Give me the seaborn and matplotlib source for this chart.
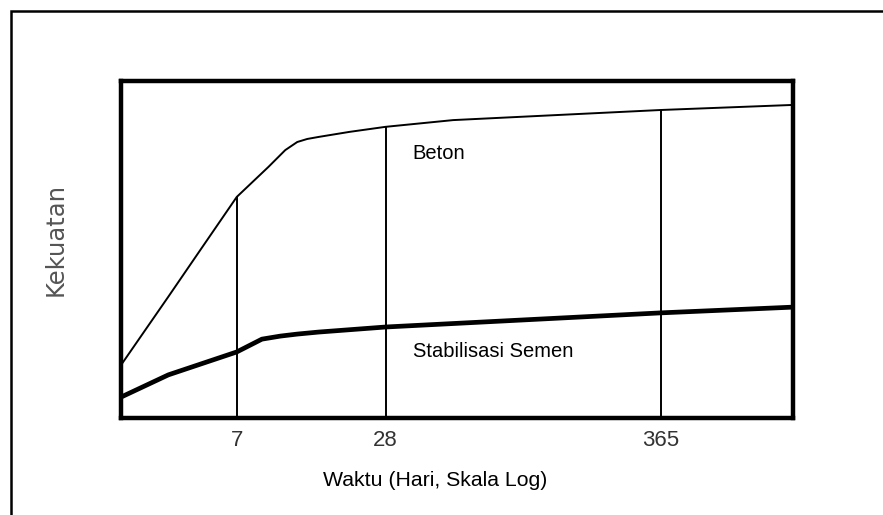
import matplotlib
matplotlib.use("Agg")
import matplotlib.pyplot as plt
from matplotlib.patches import Rectangle
import seaborn as sns
import pandas as pd

# ---- data ----
beton_days = [2.38, 3.7, 5.0, 7.0, 9.4, 11.0, 12.3, 13.5, 15.0, 20.0, 28.0, 52.6, 365.0, 1248.0]
beton_vals = [15.7, 36.0, 50.0, 65.6, 74.5, 79.5, 81.9, 82.8, 83.4, 84.9, 86.4, 88.4, 91.4, 92.9]

semen_days = [2.38, 3.7, 7.0, 8.85, 10.5, 12.3, 15.0, 28.0, 365.0, 1248.0]
semen_vals = [6.2, 12.8, 19.6, 23.4, 24.3, 24.9, 25.5, 27.0, 31.2, 32.9]

tick_days = [7, 28, 365]
tick_labels = ["7", "28", "365"]

label_beton = "Beton"
label_semen = "Stabilisasi Semen"
xlabel = "Waktu (Hari, Skala Log)"
ylabel = "Kekuatan"

sns.set_style("white")
plt.rcParams["font.family"] = ["Liberation Sans", "DejaVu Sans"]

fig = plt.figure(figsize=(8.83, 5.15), dpi=100)
ax = fig.add_axes([121 / 883, 1 - 418 / 515, (793 - 121) / 883, (418 - 81) / 515])

df_b = pd.DataFrame({"x": beton_days, "y": beton_vals})
df_s = pd.DataFrame({"x": semen_days, "y": semen_vals})
sns.lineplot(data=df_b, x="x", y="y", ax=ax, color="black", lw=1.4, sort=True)
sns.lineplot(data=df_s, x="x", y="y", ax=ax, color="black", lw=3.4, sort=True)

ax.set_xscale("log")
ax.set_xlim(2.38, 1248)
ax.set_ylim(0, 100)

# vertical lines from the bottom up to the Beton curve
heights = [beton_vals[beton_days.index(float(d))] for d in tick_days]
ax.vlines(tick_days, 0, heights, color="black", lw=1.4)

ax.set_xticks(tick_days)
ax.set_xticklabels(tick_labels)
ax.xaxis.set_minor_locator(matplotlib.ticker.NullLocator())
ax.set_yticks([])
ax.tick_params(axis="x", length=0, pad=9, labelsize=16, labelcolor="#333333")
ax.set_xlabel("")
ax.set_ylabel("")
for s in ax.spines.values():
    s.set_visible(True)
    s.set_color("black")
    s.set_linewidth(3.2)

ax.text(36, 78.6, label_beton, fontsize=14.5, va="center", ha="left", color="black")
ax.text(36, 19.6, label_semen, fontsize=14.5, va="center", ha="left", color="black")

fig.text(435.5 / 883, 1 - 480 / 515, xlabel, fontsize=15.3, ha="center", va="center", color="black")
fig.text(56 / 883, 1 - 240 / 515, ylabel, fontsize=17.5, ha="center", va="center",
         rotation=90, color="#555555", family=["DejaVu Sans"])

# outer frame (extends beyond right and bottom edges)
fig.patches.append(Rectangle((11 / 883, -0.1), 1.2, (515 - 11) / 515 + 0.1,
                             transform=fig.transFigure, fill=False,
                             edgecolor="black", lw=1.8))

fig.savefig("out.png", dpi=100)
